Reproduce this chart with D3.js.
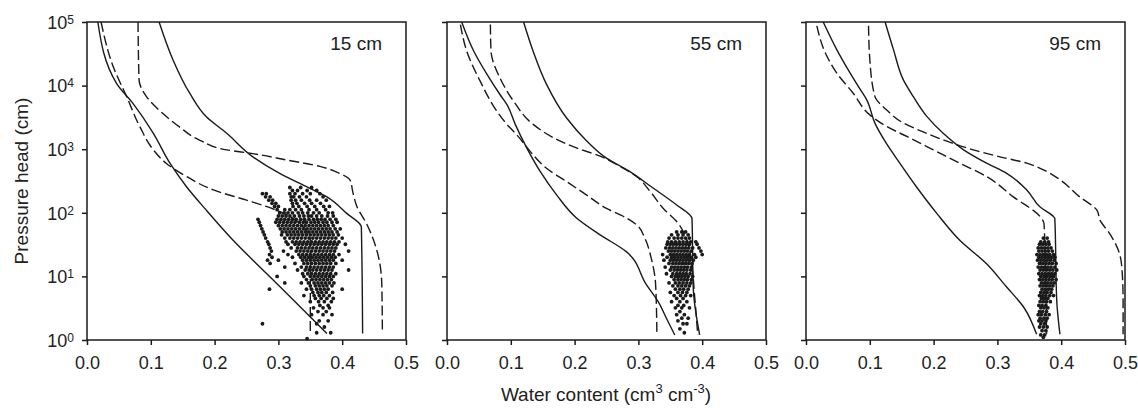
<!DOCTYPE html>
<html lang="en">
<head>
<meta charset="UTF-8">
<title>Water retention curves</title>
<script src="https://d3js.org/d3.v7.min.js"></script>
<style>
    body { margin: 0; background: #fff; font-family: "Liberation Sans", Arial, sans-serif; }
    svg { display: block; }
    .tick text { font-size: 18px; fill: #222; }
    .title { font-size: 19px; fill: #222; }
</style>
</head>
<body>
<svg width="1138" height="408"></svg>
<script>
// depths and axis ticks
const depths = ["15 cm", "55 cm", "95 cm"];
const xTicks = [0, 0.1, 0.2, 0.3, 0.4, 0.5];
const yTicks = [1, 10, 100, 1000, 10000, 100000];

// curves: [water content, pressure head cm]
const solidLow15 = [[0.017,1e5],[0.046,10965],[0.072,5248],[0.104,1778],[0.130,603],[0.156,257],[0.187,110],[0.229,37],[0.281,11.2],[0.323,4.3],[0.376,1.26]];
const solidHigh15 = [[0.113,1e5],[0.135,25119],[0.161,7586],[0.187,3236],[0.219,1778],[0.260,759],[0.302,417],[0.344,257],[0.376,178],[0.407,98],[0.430,60],[0.432,1.26]];
const dashLow15 = [[0.022,1e5],[0.041,19953],[0.062,6761],[0.083,2239],[0.104,977],[0.124,603],[0.156,372],[0.198,229],[0.250,158],[0.281,126],[0.313,93],[0.339,60],[0.350,37],[0.350,1.26]];
const dashHigh15 = [[0.080,1e5],[0.0816,12303],[0.093,6761],[0.119,3631],[0.145,2239],[0.177,1380],[0.219,977],[0.260,851],[0.313,676],[0.365,537],[0.396,417],[0.412,331],[0.417,204],[0.423,126],[0.438,68],[0.454,26.3],[0.462,7.8],[0.463,1.26]];

const solidLow55 = [[0.023,1e5],[0.042,34674],[0.0625,15136],[0.083,7244],[0.094,5012],[0.107,2455],[0.125,1047],[0.146,447],[0.172,190],[0.203,83],[0.240,45],[0.281,24.5],[0.3125,7.4],[0.331,4.0],[0.344,2.19],[0.357,1.2]];
const solidHigh55 = [[0.120,1e5],[0.135,34674],[0.156,10471],[0.1875,3090],[0.219,1349],[0.25,724],[0.286,447],[0.323,245],[0.359,135],[0.384,81],[0.386,6.5],[0.396,1.2]];
const dashLow55 = [[0.021,91201],[0.031,34674],[0.052,11749],[0.078,3981],[0.094,2455],[0.109,1698],[0.130,933],[0.156,501],[0.1875,309],[0.219,190],[0.25,117],[0.281,83],[0.297,65],[0.310,40],[0.320,19.5],[0.327,7.4],[0.329,1.2]];
const dashHigh55 = [[0.068,91201],[0.069,34674],[0.083,13183],[0.104,5754],[0.135,2455],[0.167,1514],[0.203,1047],[0.240,776],[0.271,537],[0.297,372],[0.318,219],[0.339,117],[0.362,69],[0.375,40],[0.383,17],[0.388,5.1],[0.393,1.2]];

const solidLow95 = [[0.027,1e5],[0.048,37154],[0.069,15849],[0.085,8710],[0.095,6026],[0.108,2570],[0.126,1230],[0.147,603],[0.173,257],[0.205,98],[0.241,37],[0.283,15.8],[0.3145,6.8],[0.341,3.3],[0.3615,1.23]];
const solidHigh95 = [[0.124,1e5],[0.137,37154],[0.1526,12303],[0.168,6761],[0.189,3311],[0.215,1778],[0.247,977],[0.283,603],[0.3145,417],[0.346,229],[0.367,123],[0.388,87],[0.390,81],[0.393,4.2],[0.398,1.23]];
const dashLow95 = [[0.017,87096],[0.030,33113],[0.048,15849],[0.074,7586],[0.100,3467],[0.126,2291],[0.158,1585],[0.1996,977],[0.241,603],[0.283,372],[0.325,178],[0.367,87],[0.373,68],[0.3746,25.7],[0.377,1.23]];
const dashHigh95 = [[0.098,87096],[0.100,25704],[0.108,6761],[0.126,4169],[0.153,2570],[0.189,1778],[0.231,1230],[0.262,977],[0.304,759],[0.346,603],[0.367,501],[0.398,331],[0.429,178],[0.456,110],[0.461,76],[0.476,47],[0.4896,25.7],[0.495,14.1],[0.497,4.2],[0.497,1.23]];

// measured points, read row by row: [pressure head, [water contents]]
const obs15 = [
  [250,[0.318,0.335,0.352]],
  [224,[0.322,0.330,0.345,0.36]],
  [200,[0.275,0.281,0.318,0.326,0.338,0.35,0.365]],
  [178,[0.28,0.287,0.32,0.324,0.333,0.344,0.37]],
  [158,[0.285,0.291,0.32,0.327,0.336,0.349,0.36,0.375]],
  [141,[0.29,0.296,0.322,0.329,0.341,0.352,0.366]],
  [126,[0.294,0.30,0.323,0.332,0.345,0.357,0.371,0.38]],
  [112,[0.298,0.31,0.318,0.327,0.336,0.348,0.36,0.374]],
  [100,[0.302,0.309,0.315,0.322,0.331,0.338,0.346,0.355,0.364,0.378,0.385]],
  [89,[0.30,0.306,0.312,0.318,0.325,0.333,0.34,0.347,0.352,0.36,0.368,0.377,0.386]],
  [79,[0.268,0.298,0.304,0.31,0.316,0.322,0.328,0.335,0.341,0.348,0.355,0.361,0.367,0.373,0.381,0.39]],
  [71,[0.27,0.296,0.302,0.308,0.314,0.32,0.326,0.333,0.339,0.344,0.351,0.357,0.363,0.37,0.376,0.384,0.392]],
  [63,[0.272,0.30,0.306,0.312,0.318,0.324,0.33,0.336,0.342,0.348,0.354,0.36,0.366,0.372,0.378,0.386]],
  [56,[0.274,0.303,0.309,0.315,0.321,0.327,0.333,0.339,0.345,0.351,0.357,0.363,0.369,0.375,0.381,0.389,0.397]],
  [50,[0.276,0.306,0.312,0.318,0.324,0.33,0.336,0.342,0.348,0.354,0.36,0.366,0.372,0.378,0.384,0.392]],
  [45,[0.278,0.305,0.314,0.32,0.326,0.332,0.338,0.344,0.35,0.356,0.362,0.368,0.374,0.38,0.386,0.394]],
  [40,[0.28,0.31,0.318,0.324,0.33,0.336,0.342,0.348,0.354,0.36,0.366,0.372,0.378,0.384,0.39,0.40]],
  [35,[0.283,0.312,0.322,0.328,0.334,0.34,0.346,0.352,0.358,0.364,0.37,0.376,0.382,0.388,0.395]],
  [32,[0.285,0.315,0.326,0.332,0.338,0.344,0.35,0.356,0.362,0.368,0.374,0.38,0.386,0.392,0.405]],
  [28,[0.287,0.32,0.33,0.336,0.342,0.348,0.354,0.36,0.366,0.372,0.378,0.384,0.39]],
  [25,[0.289,0.308,0.328,0.334,0.34,0.346,0.352,0.358,0.364,0.37,0.376,0.382,0.388,0.41]],
  [22,[0.286,0.315,0.332,0.338,0.344,0.35,0.356,0.362,0.368,0.374,0.38,0.386,0.395]],
  [20,[0.29,0.322,0.335,0.341,0.347,0.353,0.359,0.365,0.371,0.377,0.383,0.389]],
  [18,[0.283,0.30,0.338,0.344,0.35,0.356,0.362,0.368,0.374,0.38,0.386,0.40]],
  [16,[0.287,0.326,0.34,0.346,0.352,0.358,0.364,0.37,0.376,0.382,0.39]],
  [14,[0.31,0.336,0.344,0.35,0.356,0.362,0.368,0.374,0.38,0.386]],
  [12.6,[0.33,0.342,0.348,0.354,0.36,0.366,0.372,0.378,0.384,0.41]],
  [11,[0.338,0.346,0.352,0.358,0.364,0.37,0.376,0.382,0.39]],
  [10,[0.298,0.34,0.35,0.356,0.362,0.368,0.374,0.38,0.386]],
  [8.9,[0.344,0.353,0.359,0.365,0.371,0.377,0.383]],
  [7.9,[0.31,0.336,0.347,0.356,0.362,0.368,0.374,0.38,0.387]],
  [7.1,[0.35,0.358,0.364,0.37,0.376,0.384]],
  [6.3,[0.286,0.344,0.352,0.36,0.366,0.372,0.378,0.40]],
  [5.6,[0.354,0.362,0.368,0.375,0.385]],
  [5,[0.34,0.356,0.364,0.371,0.38]],
  [4.5,[0.358,0.367,0.376,0.386]],
  [4,[0.35,0.363,0.372,0.383]],
  [3.5,[0.365,0.378]],
  [3.2,[0.355,0.37,0.38]],
  [2.8,[0.362,0.375]],
  [2.5,[0.352,0.37,0.384]],
  [2,[0.364,0.378]],
  [1.8,[0.275,0.36]],
  [1.6,[0.372]],
  [1.3,[0.36,0.382]],
  [1.05,[0.345]]
];
const obs55 = [
  [50,[0.36,0.368,0.374]],
  [45,[0.352,0.362,0.37,0.378]],
  [40,[0.348,0.356,0.362,0.368,0.374,0.38]],
  [35,[0.346,0.352,0.358,0.364,0.37,0.376,0.382,0.39]],
  [32,[0.345,0.35,0.355,0.36,0.365,0.37,0.375,0.38,0.392]],
  [28,[0.343,0.349,0.354,0.359,0.364,0.369,0.374,0.379,0.385,0.395]],
  [25,[0.347,0.352,0.357,0.362,0.367,0.372,0.377,0.383,0.398]],
  [22,[0.338,0.35,0.355,0.36,0.365,0.37,0.375,0.38,0.388,0.40]],
  [20,[0.345,0.352,0.357,0.362,0.367,0.372,0.377,0.382,0.39]],
  [18,[0.34,0.35,0.355,0.36,0.365,0.37,0.375,0.38,0.386]],
  [16,[0.348,0.354,0.359,0.364,0.369,0.374,0.379,0.384]],
  [14,[0.342,0.352,0.357,0.362,0.367,0.372,0.377,0.383]],
  [12.6,[0.35,0.356,0.361,0.366,0.371,0.376,0.382]],
  [11,[0.344,0.354,0.36,0.365,0.37,0.375,0.381]],
  [10,[0.352,0.358,0.363,0.368,0.373,0.378,0.385]],
  [8.9,[0.356,0.362,0.367,0.372,0.377,0.383]],
  [7.9,[0.348,0.358,0.364,0.37,0.376,0.382]],
  [7.1,[0.354,0.362,0.368,0.374,0.38]],
  [6.3,[0.358,0.365,0.371,0.378]],
  [5.6,[0.35,0.362,0.369,0.376]],
  [5,[0.356,0.366,0.374,0.382]],
  [4.5,[0.36,0.37]],
  [4,[0.352,0.365,0.376]],
  [3.5,[0.362,0.371]],
  [3.2,[0.358,0.368,0.38]],
  [2.8,[0.365]],
  [2.5,[0.36,0.372]],
  [2.2,[0.368,0.378]],
  [2,[0.362]],
  [1.8,[0.37,0.376]],
  [1.5,[0.365]],
  [1.3,[0.372]]
];
const obs95 = [
  [40,[0.372,0.378]],
  [35,[0.368,0.374,0.38]],
  [32,[0.366,0.371,0.376,0.381]],
  [28,[0.364,0.369,0.374,0.379,0.384]],
  [25,[0.365,0.37,0.375,0.38,0.386]],
  [22,[0.362,0.367,0.372,0.377,0.382,0.388]],
  [20,[0.365,0.37,0.375,0.38,0.385,0.39]],
  [18,[0.363,0.368,0.373,0.378,0.383,0.389]],
  [16,[0.366,0.371,0.376,0.381,0.386,0.392]],
  [14,[0.364,0.369,0.374,0.379,0.384,0.39]],
  [12.6,[0.367,0.372,0.377,0.382,0.387,0.393]],
  [11,[0.365,0.37,0.375,0.38,0.385,0.39]],
  [10,[0.368,0.373,0.378,0.383,0.388]],
  [8.9,[0.366,0.371,0.376,0.381,0.386,0.392]],
  [7.9,[0.369,0.374,0.379,0.384,0.389]],
  [7.1,[0.367,0.372,0.377,0.382,0.387]],
  [6.3,[0.37,0.375,0.38,0.385]],
  [5.6,[0.368,0.373,0.378,0.384]],
  [5,[0.366,0.371,0.376,0.382,0.388]],
  [4.5,[0.369,0.374,0.379]],
  [4,[0.367,0.372,0.377,0.383]],
  [3.5,[0.365,0.37,0.376]],
  [3.2,[0.368,0.373,0.379]],
  [2.8,[0.366,0.371,0.377]],
  [2.5,[0.364,0.369,0.375,0.381]],
  [2.2,[0.367,0.373,0.378]],
  [2,[0.365,0.37,0.376]],
  [1.8,[0.368,0.374]],
  [1.6,[0.366,0.372,0.378]],
  [1.4,[0.37,0.376]],
  [1.2,[0.368,0.374]],
  [1.1,[0.372]]
];

const panels = [
    { label: depths[0], solid: [solidLow15, solidHigh15], dashed: [dashLow15, dashHigh15], obs: obs15 },
    { label: depths[1], solid: [solidLow55, solidHigh55], dashed: [dashLow55, dashHigh55], obs: obs55 },
    { label: depths[2], solid: [solidLow95, solidHigh95], dashed: [dashLow95, dashHigh95], obs: obs95 }
];

const svg = d3.select("svg");
const lefts = [87, 447, 806];
const plotTop = 22, w = 319, h = 318;
const ink = "#1a1a1a";

const x = d3.scaleLinear().domain([0, 0.5]).range([0, w]);
const y = d3.scaleLog().domain([1, 1e5]).range([h, 0]);
// pressure head falls steadily along each curve, so a y-monotone spline stays smooth without overshoot
const line = d3.line().x(d => x(d[0])).y(d => y(d[1])).curve(d3.curveMonotoneY);

panels.forEach((p, i) => {
    const g = svg.append("g").attr("transform", `translate(${lefts[i]},${plotTop})`);

    // scatter
    const pts = p.obs.flatMap(([hh, ths]) => ths.map(t => [t, hh]));
    g.append("g").selectAll("circle").data(pts).enter().append("circle")
        .attr("cx", d => x(d[0])).attr("cy", d => y(d[1]))
        .attr("r", 1.9).attr("fill", ink);

    g.selectAll(".solid").data(p.solid).enter().append("path")
        .attr("class", "solid")
        .attr("d", line).attr("fill", "none").attr("stroke", ink).attr("stroke-width", 1.4);
    g.selectAll(".dashed").data(p.dashed).enter().append("path")
        .attr("class", "dashed")
        .attr("d", line).attr("fill", "none").attr("stroke", ink).attr("stroke-width", 1.4)
        .attr("stroke-dasharray", "10,4");

    // axes
    const xa = g.append("g").attr("transform", `translate(0,${h})`)
        .call(d3.axisBottom(x).tickValues(xTicks).tickSize(5).tickSizeOuter(0).tickPadding(11)
            .tickFormat(d3.format(".1f")));
    const ya = g.append("g")
        .call(d3.axisLeft(y).tickValues(yTicks).tickSize(5).tickSizeOuter(0)
            .tickFormat(""));
    [xa, ya].forEach(a => {
        a.select(".domain").remove();
        a.selectAll("line").attr("stroke", ink).attr("stroke-width", 1.5);
        a.selectAll("text").attr("fill", ink).attr("font-family", "Liberation Sans, Arial, sans-serif");
    });

    if (i === 0) {
        ya.selectAll(".tick").append("text")
            .attr("x", -13).attr("dy", "0.35em").attr("text-anchor", "end")
            .attr("fill", ink).attr("font-size", 18)
            .each(function(d) {
                const t = d3.select(this);
                t.append("tspan").text("10");
                t.append("tspan").attr("dy", "-0.42em").attr("font-size", 12)
                    .text(String(Math.round(Math.log10(d))));
            });
    }

    g.append("rect").attr("width", w).attr("height", h)
        .attr("fill", "none").attr("stroke", ink).attr("stroke-width", 1.5);

    g.append("text").attr("class", "title")
        .attr("x", w - 24).attr("y", 28).attr("text-anchor", "end")
        .attr("font-size", 18).text(p.label);
});

svg.append("text").attr("class", "title")
    .attr("transform", "translate(28,181) rotate(-90)")
    .attr("text-anchor", "middle")
    .text("Pressure head (cm)");

const xl = svg.append("text").attr("class", "title")
    .attr("x", 606).attr("y", 401).attr("text-anchor", "middle");
xl.append("tspan").text("Water content (cm");
xl.append("tspan").attr("dy", -8).attr("font-size", 13).text("3");
xl.append("tspan").attr("dy", 8).text(" cm");
xl.append("tspan").attr("dy", -8).attr("font-size", 13).text("-3");
xl.append("tspan").attr("dy", 8).text(")");
</script>
</body>
</html>
